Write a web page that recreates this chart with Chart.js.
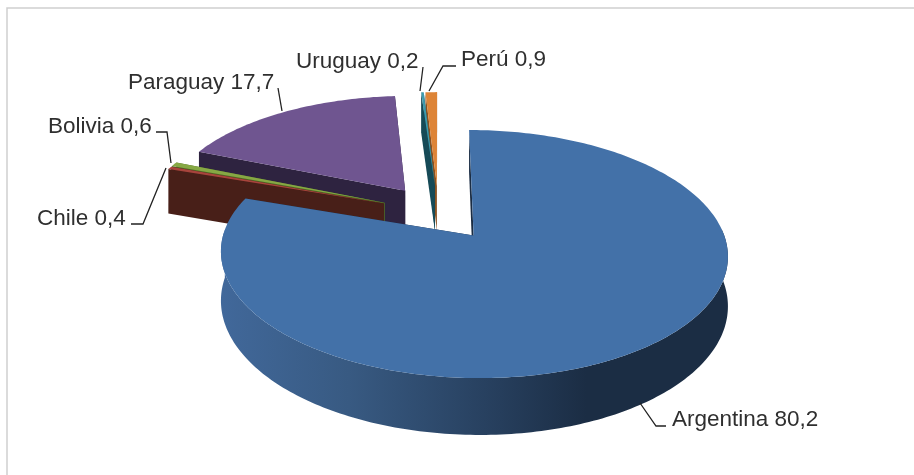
<!DOCTYPE html>
<html>
<head>
<meta charset="utf-8">
<style>
html,body{margin:0;padding:0;background:#fff;overflow:hidden}
#wrap{position:absolute;left:0;top:0;width:914px;height:475px}
canvas{filter:blur(0.45px)}
</style>
<script src="https://cdn.jsdelivr.net/npm/chart.js@4"></script>
</head>
<body>
<div id="wrap"><canvas id="c" width="914" height="475"></canvas></div>
<script>
const categories = ["Argentina", "Chile", "Bolivia", "Paraguay", "Uruguay", "Perú"];
const values = [80.2, 0.4, 0.6, 17.7, 0.2, 0.9];
const topColors = ["#4371a8", "#a8443c", "#86a844", "#6f5590", "#3d9aad", "#dd8437"];
const wallColors = ["#1b2d44", "#481f18", "#4f6a25", "#2e2340", "#164a57", "#8a5120"];
const drawOrder = [5, 4, 3, 2, 1, 0];
const labelSpots = [
  {x:672, y:426, line:[[640,403],[656,426],[666,426]]},
  {x:37,  y:225, line:[[166,168],[143,224],[131,224]]},
  {x:48,  y:133, line:[[171,163],[167,132],[156,132]]},
  {x:128, y:89,  line:[[282,111],[278,88]]},
  {x:296, y:68,  line:[[420,91],[423,67]]},
  {x:461, y:66,  line:[[429,91],[443,66],[456,66]]}
];
const view = {cx:438.5, cy:212.5, ax:243.5, ay:114.5, persp:0.145, depth:47};

function project(u, v, h) {
  const s = 1 / (1 - view.persp * v);
  return [view.cx + view.ax * u * s, view.cy + (view.ay * v + view.depth * h) * s];
}
function tracePath(ctx, pts) {
  ctx.beginPath();
  pts.forEach((p, i) => i ? ctx.lineTo(p[0], p[1]) : ctx.moveTo(p[0], p[1]));
  ctx.closePath();
}
function sliceGeometry(el) {
  const a0 = el.startAngle, a1 = el.endAngle, mid = (a0 + a1) / 2;
  const e = el.options.offset / el.outerRadius;
  const ou = Math.cos(mid) * e, ov = Math.sin(mid) * e;
  const n = Math.max(2, Math.ceil((a1 - a0) / (Math.PI / 180)));
  const angles = [];
  for (let i = 0; i <= n; i++) angles.push(a0 + (a1 - a0) * i / n);
  const rim = a => [ou + Math.cos(a), ov + Math.sin(a)];
  return {ou, ov, angles, rim, a0, a1};
}
const pie3d = {
  id: 'pie3d',
  beforeDraw(chart) {
    const ctx = chart.ctx;
    ctx.save();
    ctx.strokeStyle = '#cfcfcf';
    ctx.lineWidth = 1.5;
    ctx.beginPath();
    ctx.moveTo(7, 475); ctx.lineTo(7, 8); ctx.lineTo(914, 8);
    ctx.stroke();
    ctx.restore();
  },
  beforeDatasetsDraw(chart) {
    const ctx = chart.ctx;
    const arcs = chart.getDatasetMeta(0).data;
    ctx.save();
    drawOrder.forEach(i => {
      const el = arcs[i], g = sliceGeometry(el);
      const wall = wallColors[i];
      ctx.fillStyle = wall;
      [g.a1, g.a0].forEach(a => {
        const r = g.rim(a);
        tracePath(ctx, [project(g.ou, g.ov, 0), project(r[0], r[1], 0), project(r[0], r[1], 1), project(g.ou, g.ov, 1)]);
        ctx.fill();
      });
      const front = g.angles.filter(a => Math.sin(a) > -0.06);
      if (front.length > 1) {
        const up = front.map(a => { const r = g.rim(a); return project(r[0], r[1], 0); });
        const low = front.map(a => { const r = g.rim(a); return project(r[0], r[1], 1); }).reverse();
        const grad = ctx.createLinearGradient(222, 0, 728, 0);
        grad.addColorStop(0, '#41689a');
        grad.addColorStop(0.25, '#385a82');
        grad.addColorStop(0.55, '#263e5c');
        grad.addColorStop(0.72, '#1b2d44');
        grad.addColorStop(1, '#1b2d44');
        ctx.fillStyle = i === 0 ? grad : wall;
        tracePath(ctx, up.concat(low));
        ctx.fill();
      }
      const top = [project(g.ou, g.ov, 0)].concat(g.angles.map(a => { const r = g.rim(a); return project(r[0], r[1], 0); }));
      ctx.fillStyle = el.options.backgroundColor;
      tracePath(ctx, top);
      ctx.fill();
    });
    ctx.strokeStyle = '#222';
    ctx.lineWidth = 1.3;
    ctx.fillStyle = '#2f2f2f';
    ctx.font = '22.5px "Liberation Sans", Arial, sans-serif';
    ctx.textBaseline = 'alphabetic';
    categories.forEach((name, i) => {
      const s = labelSpots[i];
      ctx.beginPath();
      s.line.forEach((p, k) => k ? ctx.lineTo(p[0], p[1]) : ctx.moveTo(p[0], p[1]));
      ctx.stroke();
      ctx.fillText(name + ' ' + String(values[i]).replace('.', ','), s.x, s.y);
    });
    ctx.restore();
    return false;
  }
};
new Chart(document.getElementById('c'), {
  type: 'pie',
  data: {
    labels: categories,
    datasets: [{data: values, backgroundColor: topColors, borderWidth: 0, offset: 51}]
  },
  options: {
    responsive: false,
    animation: false,
    rotation: 0,
    layout: {padding: 0},
    plugins: {legend: {display: false}, tooltip: {enabled: false}, title: {display: false}}
  },
  plugins: [pie3d]
});
</script>
</body>
</html>
